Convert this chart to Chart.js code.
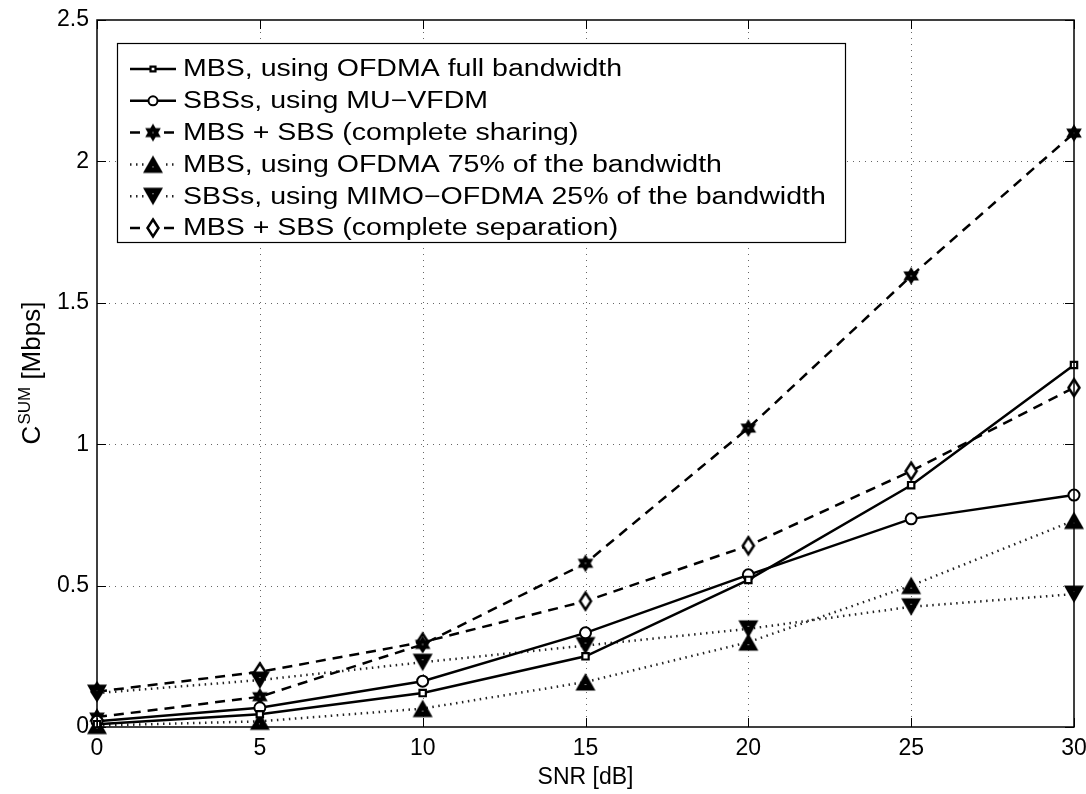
<!DOCTYPE html>
<html><head><meta charset="utf-8">
<script src="https://cdn.jsdelivr.net/npm/chart.js@4.4.0/dist/chart.umd.min.js"></script>
<style>html,body{margin:0;padding:0;background:#fff;overflow:hidden}#wrap{width:1086px;height:794px;position:relative}</style>
</head><body><div id="wrap"><canvas id="c"></canvas></div>
<script>
// ---- data ----
const snr = [0, 5, 10, 15, 20, 25, 30];
const mbsFull    = [0.010, 0.045, 0.120, 0.250, 0.520, 0.855, 1.280];
const sbsVfdm    = [0.020, 0.068, 0.162, 0.333, 0.538, 0.736, 0.820];
const sharing    = [0.035, 0.107, 0.292, 0.579, 1.057, 1.595, 2.100];
const mbs75      = [0.005, 0.020, 0.065, 0.159, 0.300, 0.500, 0.730];
const sbs25      = [0.120, 0.166, 0.229, 0.288, 0.347, 0.425, 0.470];
const separation = [0.125, 0.195, 0.300, 0.445, 0.641, 0.905, 1.200];
const seriesLabels = [
  'MBS, using OFDMA full bandwidth',
  'SBSs, using MU\u2212VFDM',
  'MBS + SBS (complete sharing)',
  'MBS, using OFDMA 75% of the bandwidth',
  'SBSs, using MIMO\u2212OFDMA 25% of the bandwidth',
  'MBS + SBS (complete separation)'
];
const xTicks = [0, 5, 10, 15, 20, 25, 30];
const yTicks = [0, 0.5, 1, 1.5, 2, 2.5];
const yTickLabels = ['0', '0.5', '1', '1.5', '2', '2.5'];
const xTitle = 'SNR [dB]';
const yTitleMain = 'C', yTitleSup = 'SUM', yTitleRest = ' [Mbps]';

const FONT = '"Liberation Sans", Arial, Helvetica, sans-serif';

// ---- marker images ----
function mk(w, h, draw) { const c = document.createElement('canvas'); c.width = w; c.height = h; const g = c.getContext('2d'); draw(g, w, h); return c; }
const hexStar = mk(20, 20, (g, w, h) => {
  const cx = w / 2, cy = h / 2, R = 9;
  g.fillStyle = '#000';
  [-90, 90].forEach(a0 => {
    g.beginPath();
    for (let k = 0; k < 3; k++) { const a = (a0 + k * 120) * Math.PI / 180; const px = cx + R * Math.cos(a), py = cy + R * Math.sin(a); k ? g.lineTo(px, py) : g.moveTo(px, py); }
    g.closePath(); g.fill();
  });
  g.fillStyle = '#fff'; g.fillRect(9.5, 9.5, 1, 1);
});
const triUp = mk(22, 20, (g) => { g.fillStyle = '#000'; g.beginPath(); g.moveTo(11, 1); g.lineTo(21, 18.5); g.lineTo(1, 18.5); g.closePath(); g.fill(); g.fillStyle = '#fff'; g.fillRect(10.5, 12, 1, 1); });
const triDown = mk(22, 20, (g) => { g.fillStyle = '#000'; g.beginPath(); g.moveTo(1, 1.5); g.lineTo(21, 1.5); g.lineTo(11, 19); g.closePath(); g.fill(); g.fillStyle = '#fff'; g.fillRect(10.5, 7, 1, 1); });
const diamond = mk(16, 22, (g) => { g.fillStyle = '#fff'; g.strokeStyle = '#000'; g.lineWidth = 2.5; g.beginPath(); g.moveTo(8, 2.5); g.lineTo(13.5, 11); g.lineTo(8, 19.5); g.lineTo(2.5, 11); g.closePath(); g.fill(); g.stroke(); });

function ds(i, data, opts) {
  return Object.assign({
    label: seriesLabels[i],
    data: snr.map((x, k) => ({ x, y: data[k] })),
    borderColor: '#000', backgroundColor: '#000', borderWidth: 2.5,
    pointBorderColor: '#000', pointBackgroundColor: '#000', pointBorderWidth: 2,
    fill: false, tension: 0, clip: false
  }, opts);
}
const datasets = [
  ds(0, mbsFull, { pointStyle: 'rect', pointRadius: 4.5, pointBackgroundColor: '#fff', pointBorderWidth: 2.2 }),
  ds(1, sbsVfdm, { pointStyle: 'circle', pointRadius: 5.5, pointBackgroundColor: '#fff', pointBorderWidth: 2 }),
  ds(2, sharing, { pointStyle: hexStar, borderDash: [10, 7] }),
  ds(3, mbs75, { pointStyle: triUp, borderDash: [1.5, 4.5], borderWidth: 2.5, borderColor: '#222' }),
  ds(4, sbs25, { pointStyle: triDown, borderDash: [1.5, 4.5], borderWidth: 2.5, borderColor: '#222' }),
  ds(5, separation, { pointStyle: diamond, borderDash: [10, 7] })
];

// ---- plugins ----
const frame = {
  id: 'frame',
  beforeDatasetsDraw(chart) {
    const { ctx, chartArea: a, scales: { x, y } } = chart;
    ctx.save(); ctx.strokeStyle = '#666'; ctx.lineWidth = 1; ctx.setLineDash([1, 5]);
    xTicks.forEach(v => { if (v === x.min || v === x.max) return; const p = Math.round(x.getPixelForValue(v)) + 0.5; ctx.beginPath(); ctx.moveTo(p, a.top); ctx.lineTo(p, a.bottom); ctx.stroke(); });
    yTicks.forEach(v => { if (v === y.min || v === y.max) return; const p = Math.round(y.getPixelForValue(v)) + 0.5; ctx.beginPath(); ctx.moveTo(a.left, p); ctx.lineTo(a.right, p); ctx.stroke(); });
    ctx.restore();
  },
  afterDatasetsDraw(chart) {
    const { ctx, chartArea: a, scales: { x, y } } = chart;
    ctx.save(); ctx.strokeStyle = '#000'; ctx.lineWidth = 1.5; ctx.setLineDash([]);
    ctx.strokeRect(a.left, a.top, a.right - a.left, a.bottom - a.top);
    ctx.lineWidth = 1; const L = 9;
    xTicks.forEach(v => { const p = Math.round(x.getPixelForValue(v)) + 0.5; ctx.beginPath(); ctx.moveTo(p, a.bottom); ctx.lineTo(p, a.bottom - L); ctx.moveTo(p, a.top); ctx.lineTo(p, a.top + L); ctx.stroke(); });
    yTicks.forEach(v => { const p = Math.round(y.getPixelForValue(v)) + 0.5; ctx.beginPath(); ctx.moveTo(a.left, p); ctx.lineTo(a.left + L, p); ctx.moveTo(a.right, p); ctx.lineTo(a.right - L, p); ctx.stroke(); });
    // axis titles
    ctx.fillStyle = '#000'; ctx.textBaseline = 'alphabetic';
    ctx.font = '23px ' + FONT; ctx.textAlign = 'center';
    ctx.fillText(xTitle, (a.left + a.right) / 2, 784);
    ctx.save();
    ctx.translate(40, (a.top + a.bottom) / 2); ctx.rotate(-Math.PI / 2);
    ctx.textAlign = 'left';
    const fMain = '26px ' + FONT, fSup = '17px ' + FONT;
    ctx.font = fMain; const w1 = ctx.measureText(yTitleMain).width, w3 = ctx.measureText(yTitleRest).width;
    ctx.font = fSup; const w2 = ctx.measureText(yTitleSup).width;
    let sx = -(w1 + w2 + w3) / 2;
    ctx.font = fMain; ctx.fillText(yTitleMain, sx, 0); sx += w1;
    ctx.font = fSup; ctx.fillText(yTitleSup, sx + 1, -10); sx += w2 + 1;
    ctx.font = fMain; ctx.fillText(yTitleRest, sx, 0);
    ctx.restore();
    ctx.restore();
  }
};

const legendBox = {
  id: 'legendBox',
  afterDraw(chart) {
    const { ctx } = chart;
    const bx = 117, by = 43, bw = 728, bh = 199, row0 = 69, dy = 31.8;
    ctx.save();
    ctx.fillStyle = '#fff'; ctx.fillRect(bx, by, bw, bh);
    ctx.strokeStyle = '#000'; ctx.lineWidth = 1.2; ctx.strokeRect(bx + 0.5, by + 0.5, bw, bh);
    chart.data.datasets.forEach((d, i) => {
      const yy = row0 + i * dy;
      ctx.save();
      ctx.strokeStyle = d.borderColor; ctx.lineWidth = d.borderWidth; ctx.setLineDash(d.borderDash || []);
      ctx.beginPath(); ctx.moveTo(130, yy); ctx.lineTo(176, yy); ctx.stroke();
      ctx.setLineDash([]);
      const ps = d.pointStyle;
      if (ps instanceof HTMLCanvasElement) {
        ctx.fillStyle = '#fff'; ctx.fillRect(153 - ps.width / 2 + 2, yy - 3, ps.width - 4, 6);
        ctx.drawImage(ps, 153 - ps.width / 2, yy - ps.height / 2);
      } else {
        ctx.fillStyle = d.pointBackgroundColor; ctx.strokeStyle = d.pointBorderColor; ctx.lineWidth = d.pointBorderWidth;
        Chart.helpers.drawPoint(ctx, { pointStyle: ps, radius: d.pointRadius - 1, borderWidth: d.pointBorderWidth, rotation: 0 }, 153, yy);
      }
      ctx.restore();
      // legend text (horizontally widened to match the reference's letter widths)
      ctx.save();
      ctx.translate(183, yy + 1); ctx.scale(1.24, 1);
      ctx.fillStyle = '#000'; ctx.font = '23px ' + FONT; ctx.textAlign = 'left'; ctx.textBaseline = 'middle';
      ctx.fillText(d.label, 0, 0);
      ctx.restore();
    });
    ctx.restore();
  }
};

new Chart(document.getElementById('c'), {
  type: 'line',
  data: { datasets },
  options: {
    responsive: true, maintainAspectRatio: false, animation: false, devicePixelRatio: 1,
    layout: { padding: { top: 20, right: 12, left: 0, bottom: 0 } },
    plugins: { legend: { display: false }, tooltip: { enabled: false } },
    scales: {
      x: {
        type: 'linear', min: 0, max: 30,
        afterBuildTicks: s => { s.ticks = xTicks.map(v => ({ value: v })); },
        ticks: { color: '#000', font: { family: FONT, size: 23 }, padding: 8, maxRotation: 0, autoSkip: false },
        grid: { display: false, drawTicks: false }, border: { display: false },
        afterFit: s => { s.height = 67; s.paddingLeft = 0; s.paddingRight = 0; }
      },
      y: {
        type: 'linear', min: 0, max: 2.5,
        afterBuildTicks: s => { s.ticks = yTicks.map(v => ({ value: v })); },
        ticks: { color: '#000', font: { family: FONT, size: 23 }, padding: 8, autoSkip: false,
          callback: (v) => { const k = yTicks.indexOf(v); return k >= 0 ? yTickLabels[k] : ''; } },
        grid: { display: false, drawTicks: false }, border: { display: false },
        afterFit: s => { s.width = 97; s.paddingTop = 0; s.paddingBottom = 0; }
      }
    }
  },
  plugins: [frame, legendBox]
});
</script></body></html>
